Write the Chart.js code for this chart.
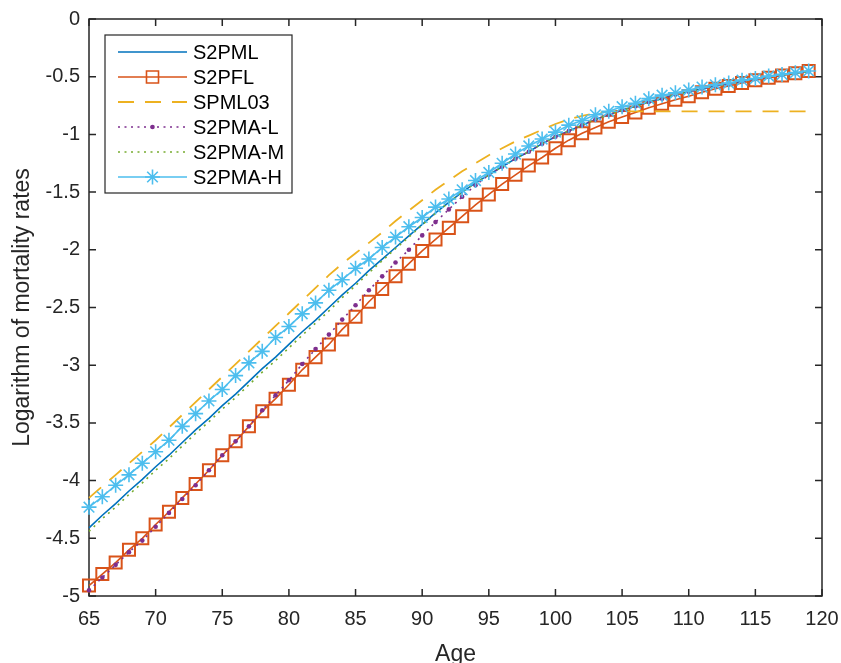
<!DOCTYPE html>
<html>
<head>
<meta charset="utf-8">
<script src="https://cdn.jsdelivr.net/npm/chart.js@4/dist/chart.umd.min.js"></script>
<style>
  html, body { margin: 0; padding: 0; background: #ffffff; }
  #chart { display: block; }
</style>
</head>
<body>
<canvas id="chart" width="841" height="663"></canvas>
<script>
const ages = [65, 66, 67, 68, 69, 70, 71, 72, 73, 74, 75, 76, 77, 78, 79, 80, 81, 82, 83, 84,
    85, 86, 87, 88, 89, 90, 91, 92, 93, 94, 95, 96, 97, 98, 99, 100, 101, 102, 103, 104,
    105, 106, 107, 108, 109, 110, 111, 112, 113, 114, 115, 116, 117, 118, 119];

const s2pml = [-4.41, -4.30, -4.20, -4.09, -3.99, -3.88, -3.78, -3.67, -3.56, -3.46,
    -3.35, -3.25, -3.14, -3.03, -2.93, -2.82, -2.71, -2.61, -2.50, -2.39,
    -2.29, -2.18, -2.08, -1.98, -1.88, -1.78, -1.68, -1.59, -1.50, -1.42,
    -1.35, -1.28, -1.21, -1.15, -1.08, -1.02, -0.97, -0.92, -0.87, -0.83,
    -0.79, -0.755, -0.72, -0.69, -0.655, -0.63, -0.605, -0.58, -0.565, -0.54,
    -0.52, -0.50, -0.485, -0.47, -0.455];

const s2pfl = [-4.91, -4.81, -4.71, -4.60, -4.50, -4.38, -4.27, -4.15, -4.03, -3.91,
    -3.78, -3.66, -3.53, -3.40, -3.29, -3.17, -3.04, -2.93, -2.82, -2.69,
    -2.58, -2.45, -2.34, -2.23, -2.12, -2.01, -1.91, -1.81, -1.71, -1.61,
    -1.52, -1.43, -1.35, -1.27, -1.20, -1.12, -1.05, -0.99, -0.94, -0.89,
    -0.85, -0.81, -0.77, -0.735, -0.70, -0.67, -0.635, -0.605, -0.58, -0.555,
    -0.53, -0.51, -0.49, -0.47, -0.45];

const spml03 = [-4.15, -4.05, -3.95, -3.85, -3.75, -3.65, -3.54, -3.43, -3.32, -3.21,
    -3.10, -2.99, -2.88, -2.77, -2.66, -2.55, -2.44, -2.33, -2.22, -2.12,
    -2.03, -1.94, -1.85, -1.75, -1.66, -1.57, -1.48, -1.40, -1.32, -1.25,
    -1.18, -1.12, -1.06, -1.01, -0.96, -0.91, -0.87, -0.84, -0.815, -0.80,
    -0.80, -0.80, -0.80, -0.80, -0.80, -0.80, -0.80, -0.80, -0.80, -0.80,
    -0.80, -0.80, -0.80, -0.80, -0.80];

const s2pmaL = [-4.95, -4.84, -4.73, -4.62, -4.52, -4.40, -4.28, -4.16, -4.04, -3.91,
    -3.78, -3.66, -3.53, -3.39, -3.26, -3.13, -2.99, -2.86, -2.735, -2.605,
    -2.48, -2.35, -2.23, -2.11, -2.00, -1.875, -1.76, -1.65, -1.54, -1.44,
    -1.35, -1.28, -1.21, -1.15, -1.08, -1.02, -0.97, -0.92, -0.87, -0.83,
    -0.79, -0.755, -0.72, -0.69, -0.655, -0.63, -0.605, -0.58, -0.565, -0.54,
    -0.52, -0.50, -0.485, -0.47, -0.455];

const s2pmaM = [-4.44, -4.33, -4.23, -4.12, -4.02, -3.91, -3.81, -3.70, -3.59, -3.49,
    -3.38, -3.28, -3.17, -3.06, -2.96, -2.85, -2.74, -2.635, -2.53, -2.415,
    -2.31, -2.20, -2.095, -1.99, -1.89, -1.785, -1.685, -1.59, -1.50, -1.42,
    -1.35, -1.28, -1.21, -1.15, -1.08, -1.02, -0.97, -0.92, -0.87, -0.83,
    -0.79, -0.755, -0.72, -0.69, -0.655, -0.63, -0.605, -0.58, -0.565, -0.54,
    -0.52, -0.50, -0.485, -0.47, -0.455];

const s2pmaH = [-4.23, -4.14, -4.04, -3.95, -3.85, -3.75, -3.65, -3.53, -3.42, -3.31,
    -3.21, -3.09, -2.98, -2.88, -2.76, -2.665, -2.555, -2.46, -2.35, -2.26,
    -2.16, -2.08, -1.98, -1.89, -1.80, -1.72, -1.63, -1.56, -1.48, -1.40,
    -1.33, -1.25, -1.17, -1.10, -1.04, -0.98, -0.92, -0.88, -0.83, -0.80,
    -0.76, -0.73, -0.69, -0.66, -0.64, -0.615, -0.59, -0.57, -0.555, -0.53,
    -0.515, -0.495, -0.48, -0.465, -0.45];

const xTicks = [65, 70, 75, 80, 85, 90, 95, 100, 105, 110, 115, 120];
const yTicks = [0, -0.5, -1, -1.5, -2, -2.5, -3, -3.5, -4, -4.5, -5];

const FONT = '"Liberation Sans", Arial, Helvetica, sans-serif';
const AXIS_COLOR = '#262626';

function points(values) {
    return ages.map((a, i) => ({ x: a, y: values[i] }));
}

// MATLAB-style box with inward tick marks
const boxPlugin = {
    id: 'boxPlugin',
    beforeDatasetsDraw(chart) {
        const { ctx, chartArea: a, scales } = chart;
        const len = 7;
        ctx.save();
        ctx.strokeStyle = AXIS_COLOR;
        ctx.lineWidth = 1.5;
        ctx.beginPath();
        xTicks.forEach(v => {
            const px = scales.x.getPixelForValue(v);
            ctx.moveTo(px, a.bottom); ctx.lineTo(px, a.bottom - len);
            ctx.moveTo(px, a.top); ctx.lineTo(px, a.top + len);
        });
        yTicks.forEach(v => {
            const py = scales.y.getPixelForValue(v);
            ctx.moveTo(a.left, py); ctx.lineTo(a.left + len, py);
            ctx.moveTo(a.right, py); ctx.lineTo(a.right - len, py);
        });
        ctx.stroke();
        ctx.strokeRect(a.left, a.top, a.right - a.left, a.bottom - a.top);
        ctx.restore();
    }
};

// legend box drawn in the upper left corner of the axes
const legendPlugin = {
    id: 'legendPlugin',
    afterDraw(chart) {
        const ctx = chart.ctx;
        const box = { x: 105, y: 35, w: 187, h: 158 };
        ctx.save();
        ctx.fillStyle = '#ffffff';
        ctx.fillRect(box.x, box.y, box.w, box.h);
        ctx.strokeStyle = AXIS_COLOR;
        ctx.lineWidth = 1.2;
        ctx.strokeRect(box.x, box.y, box.w, box.h);

        chart.data.datasets.forEach((ds, i) => {
            const y = 52 + i * 25;
            ctx.save();
            ctx.strokeStyle = ds.borderColor;
            ctx.lineWidth = ds.borderWidth;
            ctx.setLineDash(ds.borderDash || []);
            ctx.beginPath();
            ctx.moveTo(118, y);
            ctx.lineTo(187, y);
            ctx.stroke();
            ctx.setLineDash([]);
            if (ds.pointRadius > 0) {
                ctx.strokeStyle = ds.pointBorderColor;
                ctx.fillStyle = ds.pointBackgroundColor;
                Chart.helpers.drawPoint(ctx, {
                    pointStyle: ds.pointStyle,
                    radius: ds.pointRadius,
                    borderWidth: ds.pointBorderWidth,
                    rotation: 0
                }, 152.5, y);
            }
            ctx.restore();
            ctx.fillStyle = '#000000';
            ctx.font = '20px ' + FONT;
            ctx.textBaseline = 'middle';
            ctx.textAlign = 'left';
            ctx.fillText(ds.label, 193, y + 1);
        });
        ctx.restore();
    }
};

const ctx = document.getElementById('chart').getContext('2d');
new Chart(ctx, {
    type: 'line',
    data: {
        datasets: [
            {
                label: 'S2PML',
                data: points(s2pml),
                borderColor: '#0072BD',
                borderWidth: 1.6,
                pointRadius: 0,
                order: 6
            },
            {
                label: 'S2PFL',
                data: points(s2pfl),
                borderColor: '#D95319',
                borderWidth: 1.6,
                pointStyle: 'rect',
                pointRadius: 8.5,
                pointBorderWidth: 2,
                pointBorderColor: '#D95319',
                pointBackgroundColor: 'rgba(0,0,0,0)',
                order: 5
            },
            {
                label: 'SPML03',
                data: points(spml03),
                borderColor: '#EDB120',
                borderWidth: 1.8,
                borderDash: [16, 11],
                pointRadius: 0,
                order: 4
            },
            {
                label: 'S2PMA-L',
                data: points(s2pmaL),
                borderColor: '#7E2F8E',
                borderWidth: 1.6,
                borderDash: [2, 4.5],
                pointStyle: 'circle',
                pointRadius: 2.3,
                pointBorderWidth: 0,
                pointBorderColor: '#7E2F8E',
                pointBackgroundColor: '#7E2F8E',
                order: 3
            },
            {
                label: 'S2PMA-M',
                data: points(s2pmaM),
                borderColor: '#77AC30',
                borderWidth: 1.6,
                borderDash: [2, 4.5],
                pointRadius: 0,
                order: 2
            },
            {
                label: 'S2PMA-H',
                data: points(s2pmaH),
                borderColor: '#4DBEEE',
                borderWidth: 1.6,
                pointStyle: 'star',
                pointRadius: 7.5,
                pointBorderWidth: 1.6,
                pointBorderColor: '#4DBEEE',
                pointBackgroundColor: '#4DBEEE',
                order: 1
            }
        ]
    },
    options: {
        responsive: false,
        animation: false,
        devicePixelRatio: 1,
        layout: { padding: { top: 19, right: 19, left: 0, bottom: 0 } },
        elements: { line: { tension: 0 } },
        datasets: { line: { clip: false } },
        scales: {
            x: {
                type: 'linear',
                min: 65,
                max: 120,
                afterFit: scale => {
                    scale.height = 67;
                    scale.paddingLeft = 0;
                    scale.paddingRight = 0;
                },
                afterBuildTicks: scale => { scale.ticks = xTicks.map(v => ({ value: v })); },
                grid: { display: false, drawTicks: false },
                border: { display: false },
                ticks: {
                    autoSkip: false,
                    maxRotation: 0,
                    padding: 11,
                    color: AXIS_COLOR,
                    font: { family: FONT, size: 20 },
                    callback: v => String(v)
                },
                title: {
                    display: true,
                    text: 'Age',
                    color: AXIS_COLOR,
                    font: { family: FONT, size: 23 },
                    padding: { top: 0, bottom: -5 }
                }
            },
            y: {
                type: 'linear',
                min: -5,
                max: 0,
                afterFit: scale => {
                    scale.width = 89;
                    scale.paddingTop = 0;
                    scale.paddingBottom = 0;
                },
                afterBuildTicks: scale => { scale.ticks = yTicks.map(v => ({ value: v })); },
                grid: { display: false, drawTicks: false },
                border: { display: false },
                ticks: {
                    autoSkip: false,
                    padding: 9,
                    color: AXIS_COLOR,
                    font: { family: FONT, size: 20 },
                    callback: v => String(Math.round(v * 10) / 10)
                },
                title: {
                    display: true,
                    text: 'Logarithm of mortality rates',
                    color: AXIS_COLOR,
                    font: { family: FONT, size: 23 },
                    padding: { top: 9, bottom: 0 }
                }
            }
        },
        plugins: {
            legend: { display: false },
            tooltip: { enabled: false }
        }
    },
    plugins: [boxPlugin, legendPlugin]
});
</script>
</body>
</html>
